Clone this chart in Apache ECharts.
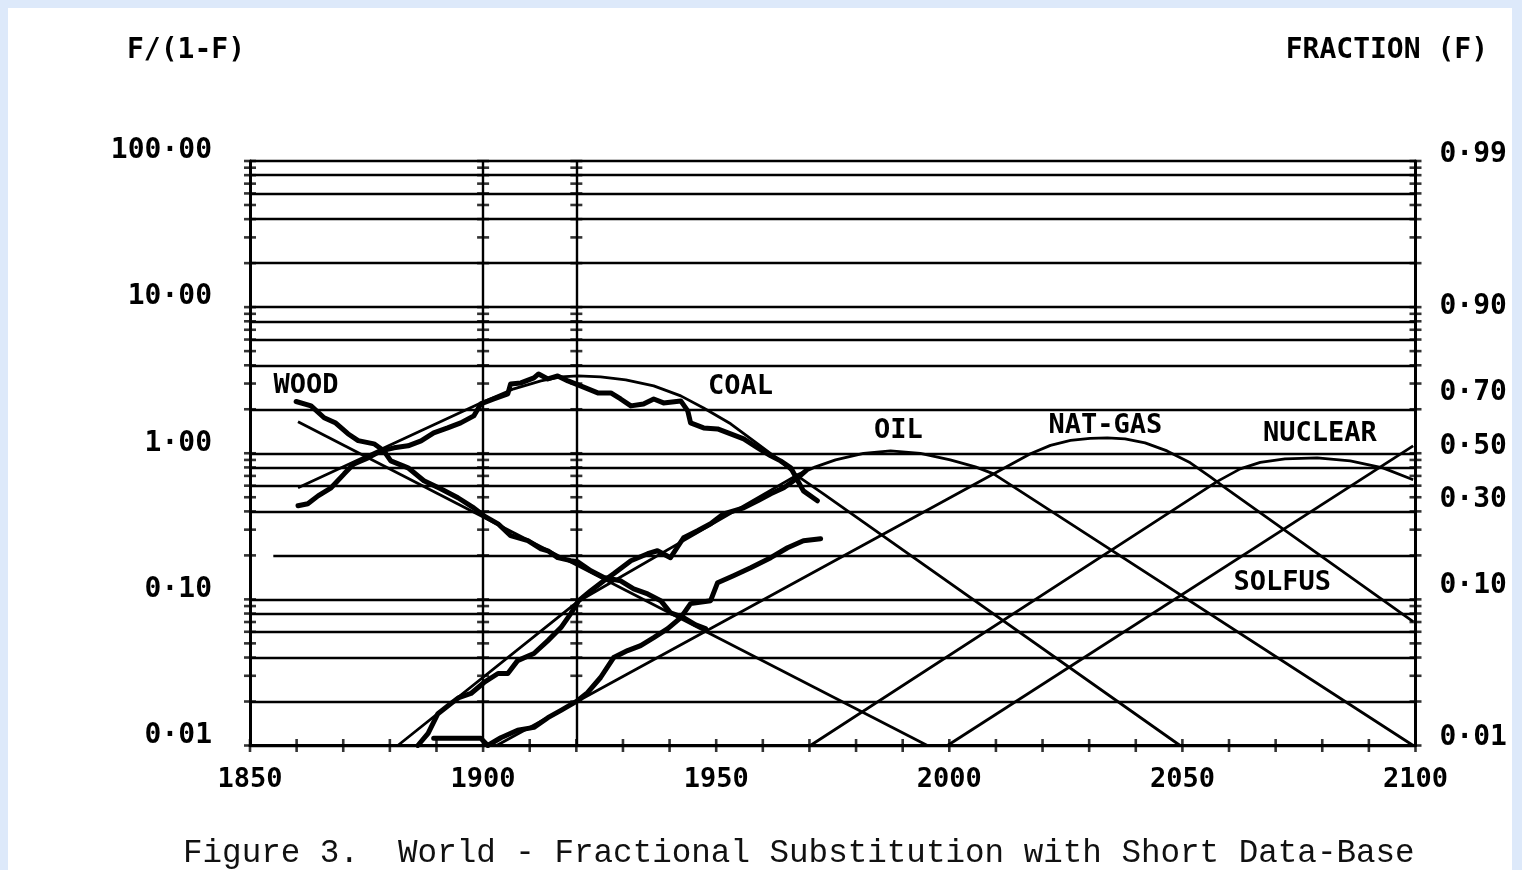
<!DOCTYPE html>
<html><head><meta charset="utf-8">
<script src="https://cdn.jsdelivr.net/npm/echarts@6/dist/echarts.min.js"></script>
<style>
html,body{margin:0;padding:0;background:#dde9fa;width:1522px;height:870px;overflow:hidden}
#chart{position:absolute;left:8px;top:8px;width:1504px;height:862px;background:#fff}
</style></head><body><div id="chart"></div>
<script>
// ---------- axis / tick data ----------
const xLabelYears = [1850, 1900, 1950, 2000, 2050, 2100];
const xTickYears = [1850,1860,1870,1880,1890,1900,1910,1920,1930,1940,1950,1960,1970,1980,1990,2000,2010,2020,2030,2040,2050,2060,2070,2080,2090,2100];
const leftTickValues = [0.01, 0.1, 1, 10, 100];
const leftTickLabels = ['0·01', '0·10', '1·00', '10·00', '100·00'];
const rightFractions = [0.01, 0.10, 0.30, 0.50, 0.70, 0.90, 0.99];
const rightLabels = ['0·01', '0·10', '0·30', '0·50', '0·70', '0·90', '0·99'];
const gridLevels = [0.01,0.02,0.04,0.06,0.08,0.1,0.4,0.6,0.8,1,2,4,6,8,10,20,40,60,80,100];
const shortGridLevels = [0.2];
const shortGridStartYear = 1855;
const minorTickLevels = [0.01,0.02,0.03,0.04,0.05,0.06,0.07,0.08,0.09,0.1,0.2,0.3,0.4,0.5,0.6,0.7,0.8,0.9,1,2,3,4,5,6,7,8,9,10,20,30,40,50,60,70,80,90,100];
const tickColumns = [1850, 1900, 1920, 2100];
const dataPeriodYears = [1900, 1920];

// ---------- model (fitted) curves ----------
const woodFitYears = [1860.3, 1995.3];
const woodFitValues = [1.64, 0.01];

const coalFitYears = [1860.3, 1899.5, 1906.6, 1912.4, 1916.7, 1920.3, 1925.2, 1930.6, 1936.6, 1942.4, 1947.3, 1953.1, 1958.9, 1963.2, 1967.4, 1973.0, 2049.5];
const coalFitValues = [0.580, 2.21, 2.76, 3.13, 3.33, 3.38, 3.33, 3.18, 2.89, 2.47, 2.04, 1.59, 1.16, 0.915, 0.70, 0.528, 0.01];

const oilFitYears = [1881.7, 1920.3, 1967.4, 1971.3, 1975.6, 1981.6, 1987.4, 1993.8, 2000.2, 2005.6, 2009.5, 2099.5];
const oilFitValues = [0.01, 0.0964, 0.711, 0.807, 0.901, 0.998, 1.039, 0.998, 0.901, 0.807, 0.723, 0.01];

const gasFitYears = [1902.9, 2017.4, 2021.7, 2026.0, 2030.2, 2033.9, 2037.7, 2042.0, 2046.7, 2051.7, 2056.0, 2059.2, 2099.5];
const gasFitValues = [0.01, 0.991, 1.132, 1.225, 1.264, 1.274, 1.254, 1.178, 1.038, 0.860, 0.690, 0.580, 0.0704];

const nuclearFitYears = [1970.2, 2057.5, 2062.4, 2066.7, 2072.0, 2078.9, 2086.0, 2093.0, 2099.5];
const nuclearFitValues = [0.01, 0.642, 0.782, 0.867, 0.915, 0.930, 0.887, 0.794, 0.658];

const solfusFitYears = [1999.6, 2099.5];
const solfusFitValues = [0.01, 1.124];

// ---------- historical data ----------
const woodDataYears = [1859.9, 1863.1, 1865.9, 1868.4, 1871.0, 1873.2, 1876.6, 1878.7, 1880.2, 1883.9, 1887.3, 1890.9, 1894.6, 1898.0, 1900.2, 1903.2, 1905.9, 1909.6, 1912.4, 1913.9, 1916.0, 1918.8, 1920.3, 1923.1, 1925.9, 1929.5, 1932.3, 1935.3, 1938.1, 1940.2, 1943.0, 1945.6, 1947.7];
const woodDataValues = [2.26, 2.11, 1.75, 1.61, 1.36, 1.22, 1.16, 1.04, 0.887, 0.795, 0.648, 0.571, 0.496, 0.423, 0.373, 0.329, 0.273, 0.252, 0.222, 0.215, 0.193, 0.184, 0.181, 0.157, 0.141, 0.134, 0.118, 0.109, 0.098, 0.081, 0.075, 0.067, 0.063];

const coalDataYears = [1860.3, 1862.4, 1864.6, 1867.4, 1870.2, 1872.3, 1875.3, 1878.1, 1880.9, 1883.9, 1886.7, 1889.4, 1892.4, 1895.2, 1898.0, 1899.5, 1902.3, 1905.3, 1905.9, 1908.1, 1910.9, 1911.9, 1913.9, 1916.0, 1918.2, 1920.9, 1924.6, 1927.4, 1929.5, 1931.7, 1934.4, 1936.6, 1938.7, 1942.4, 1943.9, 1944.5, 1947.3, 1950.3, 1953.1, 1955.9, 1958.9, 1961.7, 1963.8, 1966.0, 1967.5, 1968.7, 1971.7];
const coalDataValues = [0.437, 0.451, 0.511, 0.580, 0.723, 0.846, 0.930, 1.038, 1.089, 1.124, 1.216, 1.379, 1.491, 1.614, 1.801, 2.176, 2.353, 2.547, 2.981, 3.028, 3.276, 3.489, 3.225, 3.381, 3.125, 2.889, 2.587, 2.587, 2.353, 2.109, 2.176, 2.353, 2.211, 2.281, 1.949, 1.614, 1.491, 1.468, 1.357, 1.254, 1.089, 0.960, 0.887, 0.795, 0.648, 0.553, 0.473];

const oilDataYears = [1886.0, 1888.2, 1890.3, 1893.1, 1894.8, 1897.4, 1900.2, 1903.2, 1905.3, 1907.4, 1910.9, 1913.9, 1916.7, 1918.8, 1920.5, 1923.1, 1925.9, 1928.0, 1931.7, 1935.3, 1937.4, 1940.2, 1943.0, 1946.0, 1948.8, 1951.6, 1955.9, 1958.9, 1961.7, 1964.5, 1967.5, 1969.2];
const oilDataValues = [0.0100, 0.0121, 0.0165, 0.0194, 0.0213, 0.0227, 0.0270, 0.0311, 0.0311, 0.0381, 0.0426, 0.0522, 0.0641, 0.0799, 0.0980, 0.1147, 0.1342, 0.1499, 0.1839, 0.2053, 0.2152, 0.1928, 0.2641, 0.2949, 0.3292, 0.3853, 0.4234, 0.4726, 0.5279, 0.580, 0.679, 0.758];

const gasDataYears = [1889.4, 1899.5, 1901.0, 1903.8, 1907.4, 1910.9, 1913.9, 1916.7, 1920.3, 1922.4, 1925.2, 1928.0, 1931.0, 1933.8, 1936.6, 1939.6, 1942.4, 1944.5, 1948.8, 1950.3, 1953.7, 1957.4, 1961.7, 1965.3, 1968.7, 1972.4];
const gasDataValues = [0.0112, 0.0112, 0.0100, 0.0113, 0.0127, 0.0133, 0.0155, 0.0174, 0.0203, 0.0230, 0.0292, 0.0400, 0.0446, 0.0483, 0.0547, 0.0631, 0.0750, 0.0935, 0.0980, 0.1301, 0.1452, 0.1647, 0.1928, 0.2256, 0.2519, 0.2600];

// ---------- curve names ----------
const curveNames = ['WOOD', 'COAL', 'OIL', 'NAT-GAS', 'NUCLEAR', 'SOLFUS'];
const curveNameYears = [1862.0, 1955.2, 1989.1, 2033.5, 2079.5, 2071.4];
const curveNameValues = [2.89, 2.84, 1.42, 1.54, 1.357, 0.130];

// ---------- build ----------
const zip = (a, b) => a.map((v, i) => [v, b[i]]);
const FONT = 'DejaVu Sans Mono';
const rightTickRatios = rightFractions.map(f => f / (1 - f));
const findLabel = (vals, labels, v) => {
  const i = vals.findIndex(t => Math.abs(Math.log10(t) - Math.log10(v)) < 1e-3);
  return i >= 0 ? labels[i] : '';
};

const fitSeries = (name, ys, vs) => ({
  name, type: 'line', data: zip(ys, vs), showSymbol: false, symbol: 'none',
  lineStyle: { color: '#000', width: 2.8 }, z: 4, silent: true, animation: false
});
const dataSeries = (name, ys, vs) => ({
  name, type: 'line', data: zip(ys, vs), showSymbol: false, symbol: 'none',
  lineStyle: { color: '#000', width: 5, join: 'round', cap: 'round' }, z: 5, silent: true, animation: false
});

const crossTicks = [];
tickColumns.forEach(x => minorTickLevels.forEach(v => crossTicks.push([x, v])));
const xTicks = xTickYears.map(y => [y, 0.01]);

const gridLineData = gridLevels.map(v => ({ yAxis: v }))
  .concat(shortGridLevels.map(v => [{ coord: [shortGridStartYear, v] }, { coord: [2100, v] }]))
  .concat(dataPeriodYears.map(y => ({ xAxis: y })));

const option = {
  animation: false,
  backgroundColor: '#fff',
  title: [
    { text: 'F/(1-F)', left: 119, top: 29, padding: 0,
      textStyle: { fontFamily: FONT, fontWeight: 'bold', fontSize: 28, color: '#000' } },
    { text: 'FRACTION (F)', right: 24, top: 29, padding: 0,
      textStyle: { fontFamily: FONT, fontWeight: 'bold', fontSize: 28, color: '#000' } },
    { text: 'Figure 3.  World - Fractional Substitution with Short Data-Base', left: 175, top: 829, padding: 0,
      textStyle: { fontFamily: 'Liberation Mono', fontWeight: 'normal', fontSize: 32.6, color: '#111' } }
  ],
  grid: { left: 242, right: 96.5, top: 153, bottom: 124.5, containLabel: false, outerBoundsMode: 'none' },
  xAxis: {
    type: 'value', min: 1850, max: 2100, interval: 50,
    axisLine: { show: true, onZero: false, lineStyle: { color: '#000', width: 3 } },
    axisTick: { show: false }, splitLine: { show: false },
    axisLabel: { color: '#000', fontFamily: FONT, fontWeight: 'bold', fontSize: 27, margin: 21,
      customValues: xLabelYears, formatter: v => String(v) }
  },
  yAxis: [
    {
      type: 'log', logBase: 10, min: 0.01, max: 100, position: 'left',
      axisLine: { show: true, lineStyle: { color: '#000', width: 3 } },
      axisTick: { show: false }, splitLine: { show: false }, minorTick: { show: false },
      axisLabel: { color: '#000', fontFamily: FONT, fontWeight: 'bold', fontSize: 28, margin: 38,
        verticalAlign: 'bottom', lineHeight: 20,
        customValues: leftTickValues, formatter: v => findLabel(leftTickValues, leftTickLabels, v) }
    },
    {
      type: 'log', logBase: 10, min: 0.01, max: 100, position: 'right',
      axisLine: { show: true, lineStyle: { color: '#000', width: 3 } },
      axisTick: { show: false }, splitLine: { show: false }, minorTick: { show: false },
      axisLabel: { color: '#000', fontFamily: FONT, fontWeight: 'bold', fontSize: 28, margin: 24,
        verticalAlign: 'bottom', lineHeight: 14,
        customValues: rightTickRatios, formatter: v => findLabel(rightTickRatios, rightLabels, v) }
    }
  ],
  series: [
    {
      name: 'grid', type: 'line', data: [[1850, 1]], showSymbol: false, symbol: 'none',
      lineStyle: { width: 0 }, silent: true, z: 1,
      markLine: {
        silent: true, symbol: ['none', 'none'], animation: false,
        label: { show: false },
        lineStyle: { color: '#000', width: 2.4, type: 'solid' },
        emphasis: { disabled: true },
        data: gridLineData
      }
    },
    {
      name: 'crossTicks', type: 'scatter', data: crossTicks, symbol: 'rect', symbolSize: [12, 2.6],
      itemStyle: { color: '#000' }, silent: true, z: 2
    },
    {
      name: 'xTicks', type: 'scatter', data: xTicks, symbol: 'rect', symbolSize: [2.6, 13],
      itemStyle: { color: '#000' }, silent: true, z: 2, clip: false
    },
    fitSeries('Wood fit', woodFitYears, woodFitValues),
    fitSeries('Coal fit', coalFitYears, coalFitValues),
    fitSeries('Oil fit', oilFitYears, oilFitValues),
    fitSeries('Gas fit', gasFitYears, gasFitValues),
    fitSeries('Nuclear fit', nuclearFitYears, nuclearFitValues),
    fitSeries('Solfus fit', solfusFitYears, solfusFitValues),
    dataSeries('Wood data', woodDataYears, woodDataValues),
    dataSeries('Coal data', coalDataYears, coalDataValues),
    dataSeries('Oil data', oilDataYears, oilDataValues),
    dataSeries('Gas data', gasDataYears, gasDataValues),
    {
      name: 'names', type: 'scatter', symbol: 'circle', symbolSize: 1,
      itemStyle: { color: '#ffffff', opacity: 1 }, silent: true, z: 6,
      data: curveNames.map((n, i) => [curveNameYears[i], curveNameValues[i], n]),
      label: { show: true, position: 'inside', formatter: p => p.data[2], color: '#000', opacity: 1,
        textBorderWidth: 0, fontFamily: FONT, fontWeight: 'bold', fontSize: 27 }
    }
  ]
};
const chart = echarts.init(document.getElementById('chart'));
chart.setOption(option);
</script></body></html>
